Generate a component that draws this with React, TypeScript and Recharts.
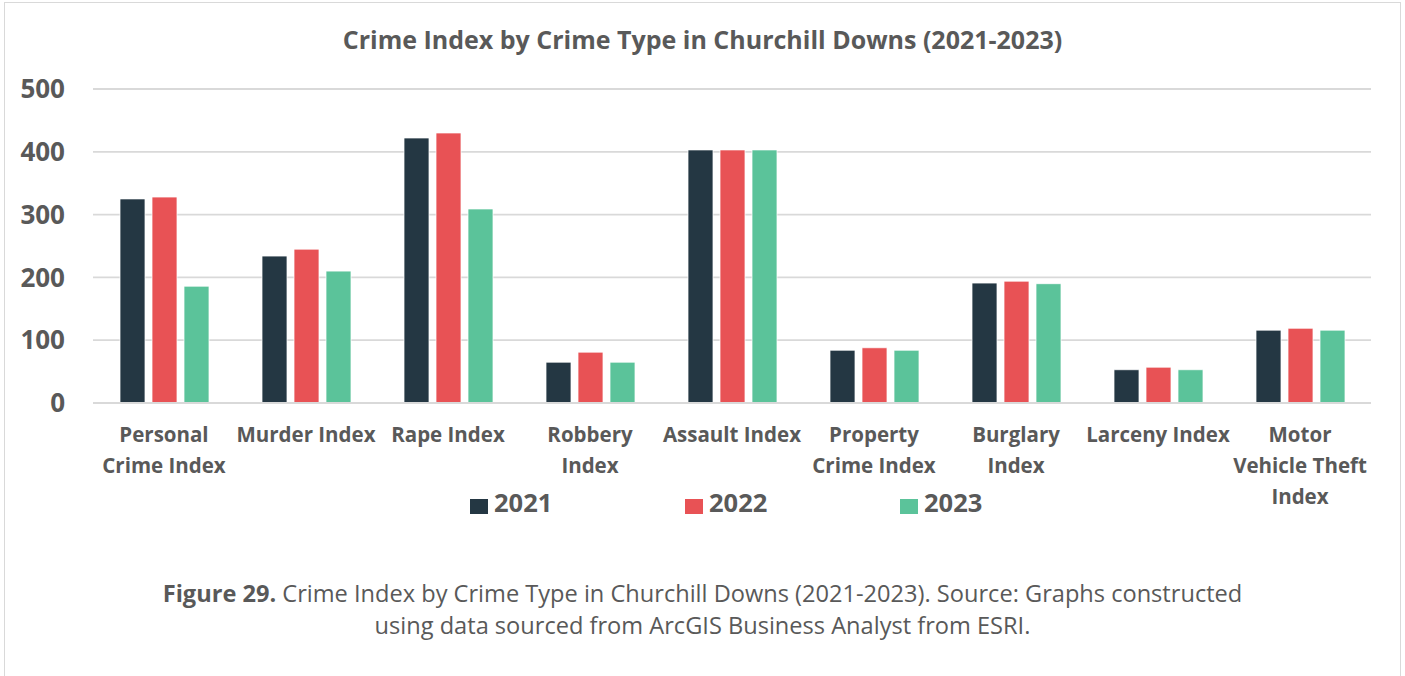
import React from 'react';
import { BarChart, Bar, XAxis, YAxis, CartesianGrid } from 'recharts';

const categories = [
  'Personal Crime Index',
  'Murder Index',
  'Rape Index',
  'Robbery Index',
  'Assault Index',
  'Property Crime Index',
  'Burglary Index',
  'Larceny Index',
  'Motor Vehicle Theft Index',
];
const tickLines: string[][] = [
  ['Personal', 'Crime Index'],
  ['Murder Index'],
  ['Rape Index'],
  ['Robbery', 'Index'],
  ['Assault Index'],
  ['Property', 'Crime Index'],
  ['Burglary', 'Index'],
  ['Larceny Index'],
  ['Motor', 'Vehicle Theft', 'Index'],
];
const values2021 = [325, 234, 422, 65, 403, 84, 191, 53, 116];
const values2022 = [328, 245, 430, 81, 403, 88, 194, 57, 119];
const values2023 = [186, 210, 309, 65, 403, 84, 190, 53, 116];
const yTicks = [0, 100, 200, 300, 400, 500];
const seriesNames = ['2021', '2022', '2023'];
const seriesColors = ['#243743', '#E85255', '#5BC39A'];

const data = categories.map((c, i) => ({
  name: c,
  y2021: values2021[i],
  y2022: values2022[i],
  y2023: values2023[i],
}));

const FONT = '"Open Sans", Calibri, sans-serif';
const GRAY = '#595959';

const XTick = (props: any) => {
  const { x, y, index } = props;
  const lines = tickLines[index] || [];
  return (
    <text x={x} y={y} textAnchor="middle" fill={GRAY} fontFamily={FONT} fontWeight={700} fontSize={20.5}>
      {lines.map((l, i) => (
        <tspan key={i} x={x} dy={31}>{l}</tspan>
      ))}
    </text>
  );
};

export default function App() {
  const keys = ['y2021', 'y2022', 'y2023'];
  return (
    <div style={{ position: 'absolute', left: 0, top: 0, width: 1405, height: 676, background: '#fff', overflow: 'hidden', fontFamily: FONT }}>
      <div style={{ position: 'absolute', left: 4, top: 2, width: 1397, height: 700, border: '1.5px solid #d9d9d9', boxSizing: 'border-box' }} />
      <div style={{ position: 'absolute', left: 0, top: 22, width: 1405, textAlign: 'center', color: GRAY, fontSize: 25, fontWeight: 700 }}>
        Crime Index by Crime Type in Churchill Downs (2021-2023)
      </div>
      <div style={{ position: 'absolute', left: 0, top: 0 }}>
        <BarChart width={1405} height={530} data={data} margin={{ top: 89, right: 34, left: 0, bottom: 27 }} barSize={25} barGap={7}>
          <CartesianGrid vertical={false} stroke="#d9d9d9" strokeWidth={1.8} x={93} width={1278} />
          <XAxis dataKey="name" axisLine={{ stroke: '#d9d9d9', strokeWidth: 1.8 }} tickLine={false} interval={0} height={100} tick={<XTick />} />
          <YAxis width={93} domain={[0, 500]} ticks={yTicks} axisLine={false} tickLine={false} tickSize={0} tickMargin={28}
            tick={{ fill: GRAY, fontFamily: FONT, fontWeight: 700, fontSize: 26 }} />
          {keys.map((k, i) => (
            <Bar key={k} dataKey={k} name={seriesNames[i]} fill={seriesColors[i]} stroke="#ffffff" strokeWidth={0.75} isAnimationActive={false} />
          ))}
        </BarChart>
      </div>
      {seriesNames.map((s, i) => (
        <React.Fragment key={s}>
          <div style={{ position: 'absolute', left: 470 + i * 215, top: 499, width: 18, height: 15, background: seriesColors[i] }} />
          <div style={{ position: 'absolute', left: 494 + i * 215, top: 490, color: GRAY, fontWeight: 700, fontSize: 25.5, lineHeight: '25.5px' }}>{s}</div>
        </React.Fragment>
      ))}
      <div style={{ position: 'absolute', left: 0, top: 577, width: 1405, textAlign: 'center', color: GRAY, fontSize: 23.6, lineHeight: '32px' }}>
        <div><b>Figure 29.</b> Crime Index by Crime Type in Churchill Downs (2021-2023). Source: Graphs constructed</div>
        <div>using data sourced from ArcGIS Business Analyst from ESRI.</div>
      </div>
    </div>
  );
}
